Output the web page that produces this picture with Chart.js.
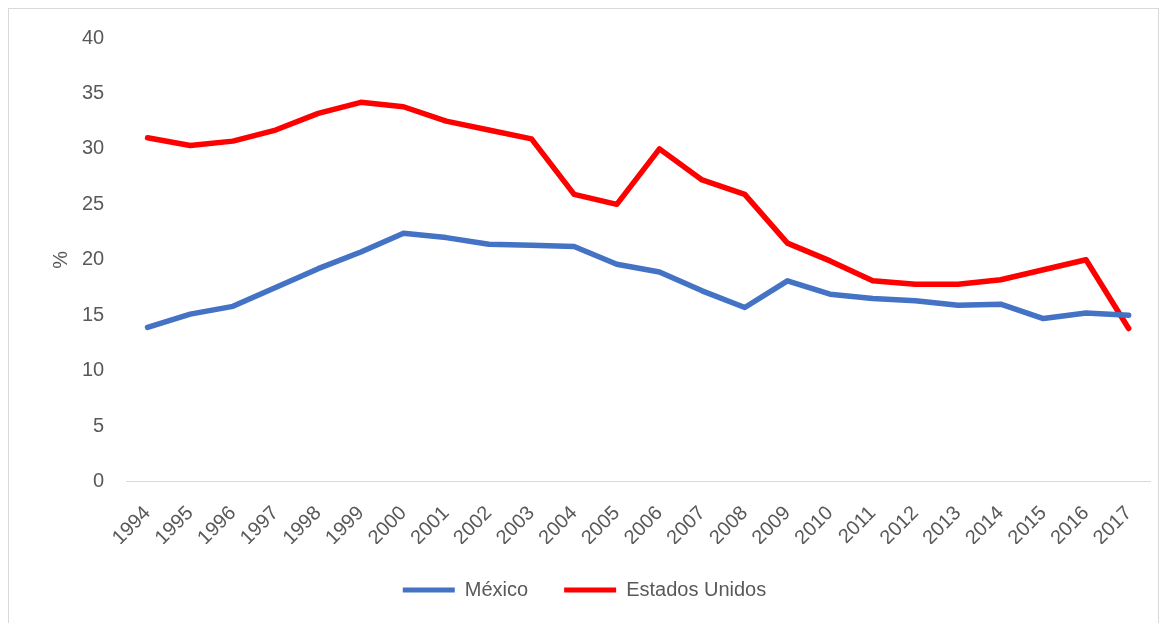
<!DOCTYPE html>
<html>
<head>
<meta charset="utf-8">
<script src="https://cdn.jsdelivr.net/npm/chart.js@4"></script>
<style>
  html, body { margin: 0; padding: 0; background: #fff; }
  #wrap { position: relative; width: 1167px; height: 623px; }
  #frame { position: absolute; left: 8px; top: 8px; width: 1151px; height: 620px; border: 1px solid #d9d9d9; box-sizing: border-box; }
  canvas { position: absolute; left: 0; top: 0; }
</style>
</head>
<body>
<div id="wrap">
  <div id="frame"></div>
  <canvas id="chart" width="1167" height="623"></canvas>
</div>
<script>
const years = ['1994','1995','1996','1997','1998','1999','2000','2001','2002','2003','2004','2005',
  '2006','2007','2008','2009','2010','2011','2012','2013','2014','2015','2016','2017'];
const mexico = [13.9, 15.1, 15.8, 17.5, 19.2, 20.7, 22.4, 22.0, 21.4, 21.3, 21.2, 19.6,
  18.9, 17.2, 15.7, 18.1, 16.9, 16.5, 16.3, 15.9, 16.0, 14.7, 15.2, 15.0];
const estadosUnidos = [31.0, 30.3, 30.7, 31.7, 33.2, 34.2, 33.8, 32.5, 31.7, 30.9, 25.9, 25.0,
  30.0, 27.2, 25.9, 21.5, 19.9, 18.1, 17.8, 17.8, 18.2, 19.1, 20.0, 13.8];

const textColor = '#595959';
const tickFont = { family: 'Liberation Sans, Arial, sans-serif', size: 20 };
const legendFont = { family: 'Liberation Sans, Arial, sans-serif', size: 20 };

// legend in the original sits a bit left of centre
const legendShift = {
  id: 'legendShift',
  afterLayout(chart) {
    chart.legend.left -= 15;
    chart.legend.right -= 15;
  }
};

const ctx = document.getElementById('chart').getContext('2d');
new Chart(ctx, {
  type: 'line',
  data: {
    labels: years,
    datasets: [
      { label: 'México', data: mexico, borderColor: '#4472C4', backgroundColor: '#4472C4',
        borderWidth: 5.5, pointRadius: 0, tension: 0, borderCapStyle: 'round', borderJoinStyle: 'round' },
      { label: 'Estados Unidos', data: estadosUnidos, borderColor: '#FF0000', backgroundColor: '#FF0000',
        borderWidth: 5.5, pointRadius: 0, tension: 0, borderCapStyle: 'round', borderJoinStyle: 'round' }
    ]
  },
  options: {
    responsive: false,
    animation: false,
    layout: { padding: { left: 49, right: 17, top: 38, bottom: 13 } },
    plugins: {
      tooltip: { enabled: false },
      legend: {
        position: 'bottom',
        labels: {
          color: textColor, font: legendFont, boxWidth: 52, boxHeight: 5, padding: 36,
          generateLabels: chart => chart.data.datasets.map((d, i) => ({
            text: d.label, fillStyle: d.borderColor, strokeStyle: d.borderColor,
            lineWidth: 0, fontColor: textColor, datasetIndex: i
          }))
        }
      }
    },
    scales: {
      x: {
        offset: true,
        grid: { display: false },
        border: { display: true, color: '#d9d9d9', width: 1 },
        ticks: { color: textColor, font: tickFont, maxRotation: 45, minRotation: 45, autoSkip: false, padding: 12 },
        afterFit: scale => { scale.height -= 18; }
      },
      y: {
        min: 0, max: 40,
        grid: { display: false },
        border: { display: false },
        ticks: { stepSize: 5, color: textColor, font: tickFont, padding: 14 },
        title: { display: true, text: '%', color: textColor, font: tickFont, padding: { top: 0, bottom: -5 } }
      }
    }
  },
  plugins: [legendShift]
});
</script>
</body>
</html>
